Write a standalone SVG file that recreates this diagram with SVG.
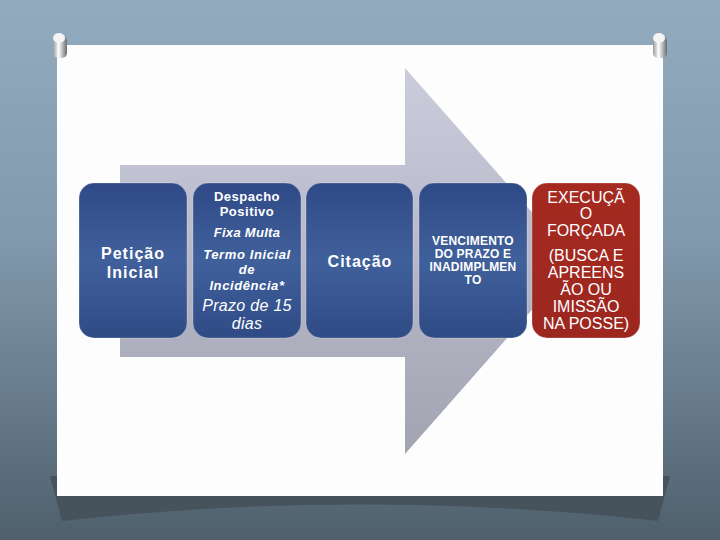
<svg xmlns="http://www.w3.org/2000/svg" width="720" height="540" viewBox="0 0 720 540">
<defs>
<linearGradient id="bg" x1="0" y1="0" x2="0" y2="1">
<stop offset="0" stop-color="#93abbf"/>
<stop offset="0.45" stop-color="#8199ad"/>
<stop offset="1" stop-color="#4f606c"/>
</linearGradient>
<linearGradient id="arrowG" x1="0" y1="0" x2="0" y2="1">
<stop offset="0" stop-color="#cbccdc"/>
<stop offset="1" stop-color="#a3a4b2"/>
</linearGradient>
<linearGradient id="blue" x1="0" y1="0" x2="0" y2="1">
<stop offset="0" stop-color="#2f4a86"/>
<stop offset="0.5" stop-color="#40609c"/>
<stop offset="1" stop-color="#2f4b86"/>
</linearGradient>
<linearGradient id="red" x1="0" y1="0" x2="0" y2="1">
<stop offset="0" stop-color="#a52a20"/>
<stop offset="1" stop-color="#9c271f"/>
</linearGradient>
<linearGradient id="pin" x1="0" y1="0" x2="1" y2="0">
<stop offset="0" stop-color="#9a9a9a"/>
<stop offset="0.4" stop-color="#ffffff"/>
<stop offset="1" stop-color="#6a6a6a"/>
</linearGradient>
</defs>
<style>
.box{stroke:#ffffff;stroke-opacity:0.25;stroke-width:1}
.t{font-family:"Liberation Sans",Arial,sans-serif;fill:#ffffff;text-anchor:middle}
.b{font-weight:bold}
.i{font-style:italic}
</style>
<rect x="0" y="0" width="720" height="540" fill="url(#bg)"/>
<!-- paper shadow -->
<path d="M50 476 L62 521 Q360 488 658 521 L670 476 Z" fill="#46535d"/>
<rect x="57" y="45" width="606" height="451" fill="#fdfdfd"/>
<!-- pins -->
<g id="pin-left">
<rect x="53" y="36" width="14" height="22" rx="5" fill="url(#pin)"/>
<ellipse cx="59" cy="38" rx="6" ry="5" fill="#f4f4f4"/>
</g>
<g id="pin-right">
<rect x="653" y="36" width="14" height="22" rx="5" fill="url(#pin)"/>
<ellipse cx="659" cy="38" rx="6" ry="5" fill="#f4f4f4"/>
</g>
<g id="arrow">
<path d="M120 165 L405 165 L405 68 L575 261 L405 454 L405 357 L120 357 Z" fill="url(#arrowG)"/>
</g>
<g id="n1">
<rect class="box" x="79" y="183" width="108" height="155" rx="15" fill="url(#blue)"/>
<text class="t b" x="133" y="259" font-size="16" letter-spacing="1">Petição</text>
<text class="t b" x="133" y="278" font-size="16" letter-spacing="1">Inicial</text>
</g>
<g id="n2">
<rect class="box" x="193" y="183" width="108" height="155" rx="15" fill="url(#blue)"/>
<text class="t b" x="247" y="201" font-size="13" letter-spacing="0.5">Despacho</text>
<text class="t b" x="247" y="216" font-size="13" letter-spacing="0.5">Positivo</text>
<text class="t b i" x="247" y="237" font-size="13" letter-spacing="0.3">Fixa Multa</text>
<text class="t b i" x="247" y="259" font-size="13" letter-spacing="0.6">Termo Inicial</text>
<text class="t b i" x="247" y="274" font-size="13" letter-spacing="0.6">de</text>
<text class="t b i" x="247" y="290" font-size="13" letter-spacing="0.6">Incidência*</text>
<text class="t i" x="247" y="311" font-size="16" letter-spacing="0.3">Prazo de 15</text>
<text class="t i" x="247" y="329" font-size="16" letter-spacing="0.3">dias</text>
</g>
<g id="n3">
<rect class="box" x="306" y="183" width="107" height="155" rx="15" fill="url(#blue)"/>
<text class="t b" x="360" y="267" font-size="16" letter-spacing="1">Citação</text>
</g>
<g id="n4">
<rect class="box" x="419" y="183" width="108" height="155" rx="15" fill="url(#blue)"/>
<text class="t b" x="473" y="245" font-size="12" letter-spacing="0.2">VENCIMENTO</text>
<text class="t b" x="473" y="258" font-size="12" letter-spacing="0.2">DO PRAZO E</text>
<text class="t b" x="473" y="271" font-size="12" letter-spacing="0.2">INADIMPLMEN</text>
<text class="t b" x="473" y="284" font-size="12" letter-spacing="0.2">TO</text>
</g>
<g id="n5">
<rect class="box" x="532" y="183" width="108" height="155" rx="15" fill="url(#red)"/>
<text class="t" x="586" y="203" font-size="16">EXECUÇÃ</text>
<text class="t" x="586" y="219" font-size="16">O</text>
<text class="t" x="586" y="236" font-size="16">FORÇADA</text>
<text class="t" x="586" y="261" font-size="16">(BUSCA E</text>
<text class="t" x="586" y="278" font-size="16">APREENS</text>
<text class="t" x="586" y="295" font-size="16">ÃO OU</text>
<text class="t" x="586" y="312" font-size="16">IMISSÃO</text>
<text class="t" x="586" y="329" font-size="16">NA POSSE)</text>
</g>
<g id="connectors"></g>
</svg>
